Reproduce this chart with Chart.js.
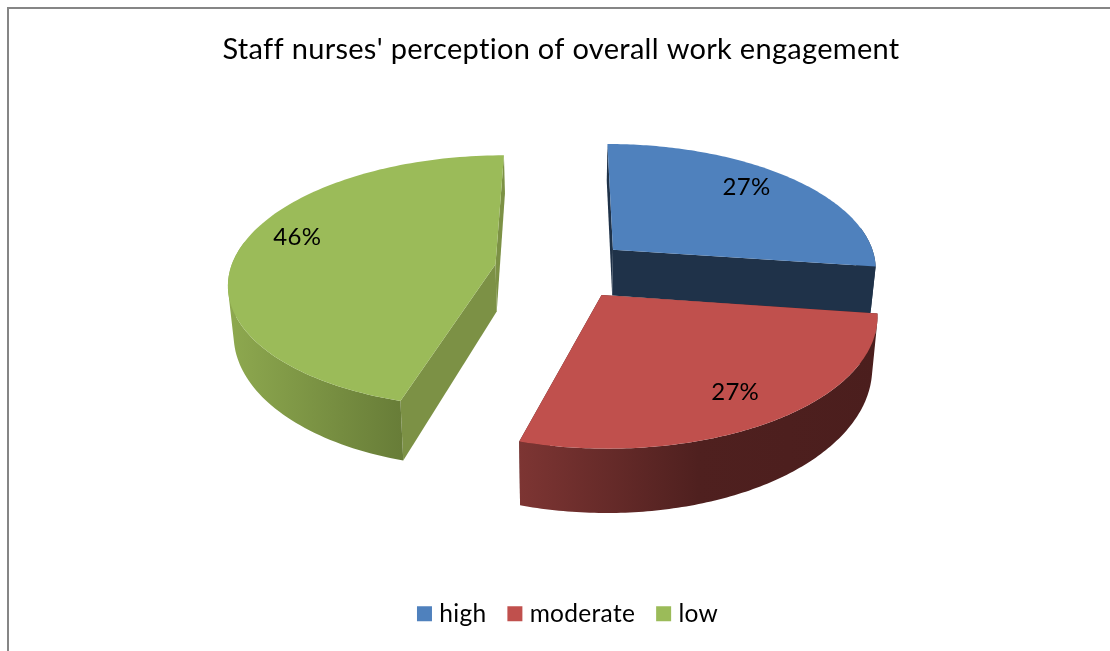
<!DOCTYPE html>
<html>
<head>
<meta charset="utf-8">
<title>Staff nurses' perception of overall work engagement</title>
<script src="https://cdn.jsdelivr.net/npm/chart.js@4"></script>
<style>
  html, body { margin: 0; padding: 0; background: #fff; }
  #wrap { width: 1110px; height: 651px; }
</style>
</head>
<body>
<div id="wrap"><canvas id="chart" width="1110" height="651"></canvas></div>
<script>
// Data
const categories = ['high', 'moderate', 'low'];
const shares = [27.2, 27.3, 45.5];
const chartTitle = "Staff nurses' perception of overall work engagement";

// Colours
const topColors = ['#4f81bd', '#c0504d', '#9bbb59'];
const flatWallColors = ['#1f3249', '#4e1f1e', '#7c9145'];
const rimStops = [
  [[0, '#1f3249'], [1, '#1f3249']],
  [[0, '#7d3533'], [0.5, '#4f201f'], [1, '#4b1e1d']],
  [[0, '#8ea94f'], [1, '#687d38']]
];
const FONT = 'Lato, "Open Sans", sans-serif';

// Perspective of the tilted disc
const VX = 566, VY = -650, DIST = 7.35, SCALE_X = 1948, SCALE_Y = 6755;
const THICK = 1411, THICK_POW = 1.7, DROP_X = 0.017;
const LABEL_RADIUS = [0.795, 0.795, 0.815];
const LABEL_TURN = [-3.5, 0, 8];
const SLICE_OFFSETS = [24, 24, 27];
const DRAW_ORDER = [0, 2, 1];

function project(u, v) {
  const d = DIST - v;
  return { x: VX + u * SCALE_X / d, y: VY + SCALE_Y / d, v: v };
}

function drop(p) {
  return {
    x: p.x - (p.x - VX) * DROP_X,
    y: p.y + THICK / Math.pow(DIST - p.v, THICK_POW),
    v: p.v
  };
}

function fillPath(ctx, pts, fill) {
  ctx.beginPath();
  pts.forEach((p, i) => (i ? ctx.lineTo(p.x, p.y) : ctx.moveTo(p.x, p.y)));
  ctx.closePath();
  ctx.fillStyle = fill;
  ctx.fill();
}

// Add a quad to the current path, always wound the same way
function addQuad(ctx, q) {
  let area = 0;
  q.forEach((p, i) => {
    const n = q[(i + 1) % 4];
    area += p.x * n.y - n.x * p.y;
  });
  const pts = area < 0 ? q.slice().reverse() : q;
  pts.forEach((p, i) => (i ? ctx.lineTo(p.x, p.y) : ctx.moveTo(p.x, p.y)));
  ctx.closePath();
}

// Draw one slice from the arc element Chart.js laid out
function drawSlice(ctx, arc, i) {
  const mid = (arc.startAngle + arc.endAngle) / 2;
  const off = arc.options.offset / arc.outerRadius;
  const ox = Math.cos(mid) * off;
  const oy = Math.sin(mid) * off;
  const apex = project(ox, oy);
  const rim = [];
  const steps = 120;
  for (let s = 0; s <= steps; s++) {
    const t = arc.startAngle + (arc.endAngle - arc.startAngle) * s / steps;
    rim.push(project(ox + Math.cos(t), oy + Math.sin(t)));
  }
  const first = rim[0];
  const last = rim[steps];

  // radial walls
  fillPath(ctx, [apex, first, drop(first), drop(apex)], flatWallColors[i]);
  fillPath(ctx, [apex, last, drop(last), drop(apex)], flatWallColors[i]);

  // outer wall, shaded across the part that faces the viewer
  const faces = p => p.v > oy - 0.2;
  const xs = rim.filter(faces).map(p => p.x);
  const grad = ctx.createLinearGradient(Math.min(...xs), 0, Math.max(...xs), 0);
  rimStops[i].forEach(s => grad.addColorStop(s[0], s[1]));
  ctx.beginPath();
  for (let s = 0; s < steps; s++) {
    if (faces(rim[s]) && faces(rim[s + 1])) {
      addQuad(ctx, [rim[s], rim[s + 1], drop(rim[s + 1]), drop(rim[s])]);
    }
  }
  ctx.fillStyle = grad;
  ctx.fill();

  // top face
  fillPath(ctx, [apex].concat(rim), topColors[i]);
}

function drawLabel(ctx, arc, i) {
  const mid = (arc.startAngle + arc.endAngle) / 2;
  const off = arc.options.offset / arc.outerRadius;
  const turned = mid + LABEL_TURN[i] * Math.PI / 180;
  const p = project(
    Math.cos(mid) * off + Math.cos(turned) * LABEL_RADIUS[i],
    Math.sin(mid) * off + Math.sin(turned) * LABEL_RADIUS[i]
  );
  ctx.fillStyle = '#000';
  ctx.font = '24px ' + FONT;
  ctx.textAlign = 'center';
  ctx.textBaseline = 'middle';
  ctx.fillText(Math.round(shares[i]) + '%', p.x, p.y);
}

// Replaces the flat pie drawing with the 3D one
const tiltedPie = {
  id: 'tiltedPie',
  beforeUpdate(chart) {
    // small spacing also stops Lato joining "ti"
    chart.ctx.letterSpacing = '0.3px';
  },
  afterLayout(chart) {
    chart.legend.left += 9;
    chart.legend.right += 9;
  },
  beforeDraw(chart) {
    const ctx = chart.ctx;
    ctx.save();
    ctx.strokeStyle = '#868686';
    ctx.lineWidth = 2;
    ctx.beginPath();
    ctx.moveTo(8, 651);
    ctx.lineTo(8, 8);
    ctx.lineTo(1110, 8);
    ctx.stroke();
    ctx.restore();
  },
  beforeDatasetDraw(chart) {
    const ctx = chart.ctx;
    const arcs = chart.getDatasetMeta(0).data;
    ctx.save();
    DRAW_ORDER.forEach(i => drawSlice(ctx, arcs[i], i));
    arcs.forEach((arc, i) => drawLabel(ctx, arc, i));
    ctx.restore();
    return false;
  }
};

new Chart(document.getElementById('chart'), {
  type: 'pie',
  data: {
    labels: categories,
    datasets: [{
      data: shares,
      backgroundColor: topColors,
      borderWidth: 0,
      offset: SLICE_OFFSETS
    }]
  },
  options: {
    responsive: false,
    animation: false,
    radius: 100,
    layout: { padding: { left: 12, bottom: 15, top: 32 } },
    plugins: {
      tooltip: { enabled: false },
      title: {
        display: true,
        text: chartTitle,
        color: '#000',
        font: { family: FONT, size: 29, weight: 'normal' },
        padding: { top: 0, bottom: 20 }
      },
      legend: {
        position: 'bottom',
        labels: {
          color: '#000',
          font: { family: FONT, size: 24.5 },
          usePointStyle: true,
          pointStyle: 'rect',
          boxWidth: 5,
          boxHeight: 15,
          padding: 26
        }
      }
    }
  },
  plugins: [tiltedPie]
});
</script>
</body>
</html>
